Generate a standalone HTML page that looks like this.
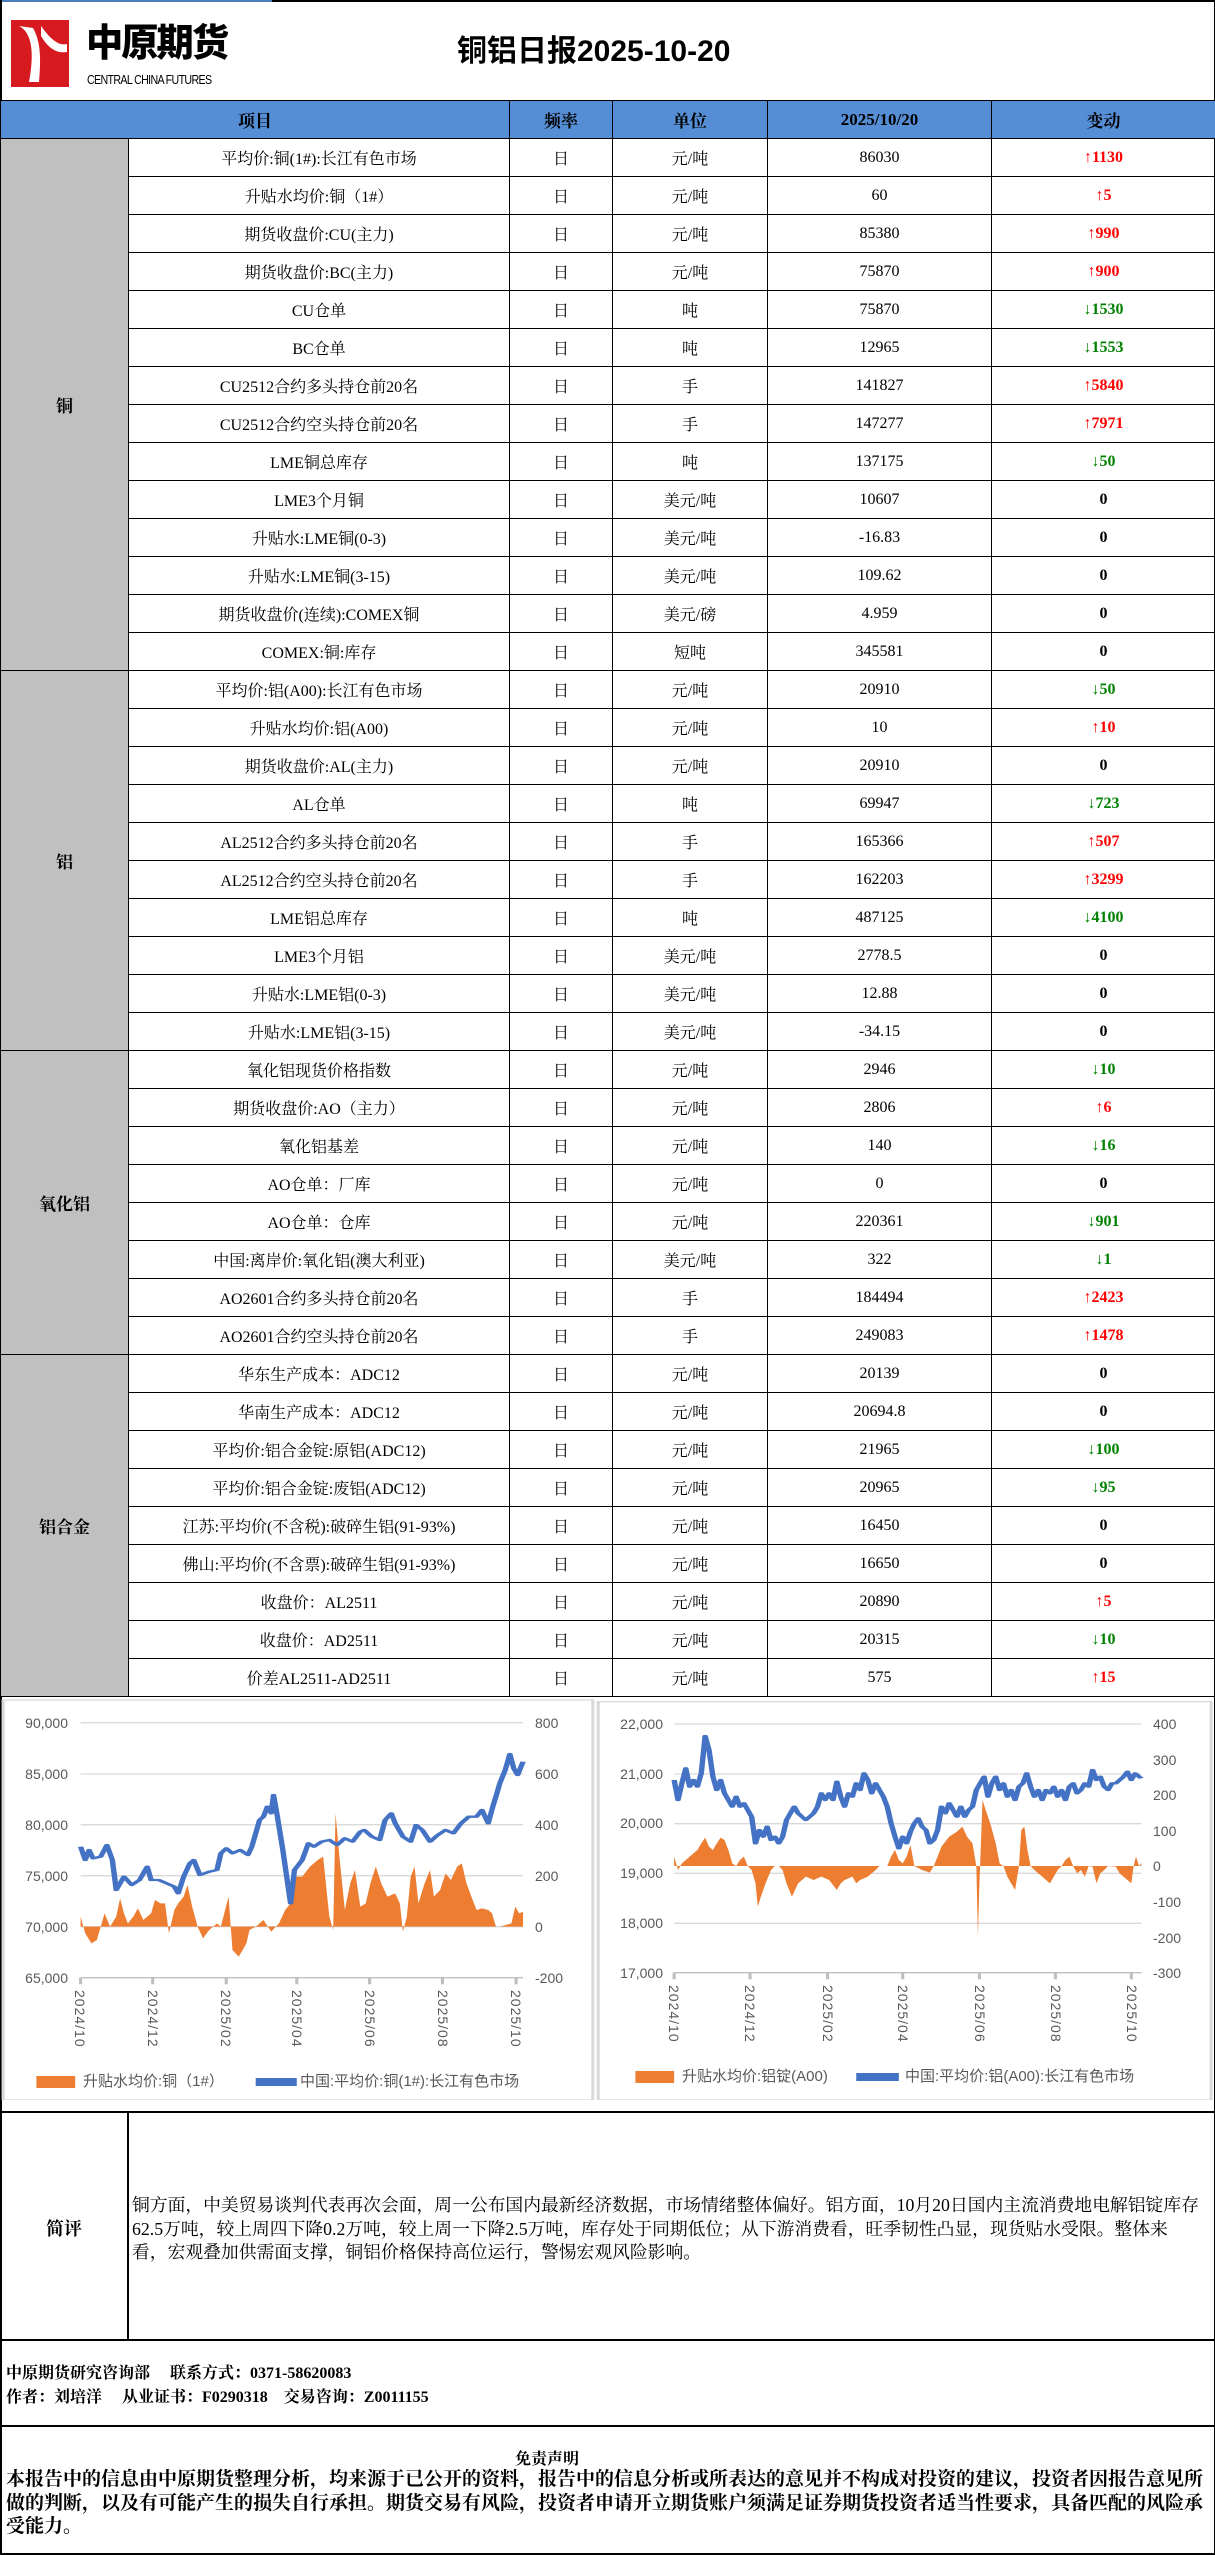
<!DOCTYPE html>
<html><head><meta charset="utf-8"><style>
*{margin:0;padding:0;box-sizing:border-box}
body{width:1215px;height:2555px;position:relative;background:#fff;font-family:"Liberation Serif","Noto Serif CJK SC",serif;color:#000;overflow:hidden}
.abs{position:absolute}
table{position:absolute;left:0;top:100px;width:1215px;border-collapse:collapse;table-layout:fixed}
td,th{border:1.5px solid #000;height:38px;text-align:center;font-size:16px;font-weight:normal;padding:0;white-space:nowrap;overflow:hidden}
th{background:#558ed5;font-weight:bold;font-size:17px}
td.cat{background:#c0c0c0;font-weight:bold;font-size:17px}
td.c{font-weight:bold}
.u{color:#ff0000}.d{color:#008000}
.lab{position:absolute;font-family:"Liberation Sans","Noto Sans CJK SC",sans-serif;font-size:14px;color:#595959;line-height:16px}
.dt{position:absolute;writing-mode:vertical-rl;font-family:"Liberation Sans",sans-serif;font-size:14px;color:#595959;letter-spacing:1px}
</style></head><body>
<div class="abs" style="left:0;top:0;width:1215px;height:2px;background:#000"></div>
<div class="abs" style="left:0;top:0;width:272px;height:2px;background:#4a7ebb"></div>
<div class="abs" style="left:0;top:0;width:1.5px;height:2555px;background:#000"></div>
<div class="abs" style="right:0;top:0;width:1.5px;height:2555px;background:#000"></div>
<svg class="abs" style="left:11px;top:20px" width="58" height="67" viewBox="0 0 58 67"><rect width="58" height="67" fill="#d71920"/><path d="M8 6 C20 12 24 30 18 62 L28 62 C30 40 30 22 22 8 Z" fill="#fff"/><path d="M30 6 C40 20 48 26 56 24 L56 32 C44 34 36 26 30 16 Z" fill="#fff"/></svg>
<div class="abs" style="left:86px;top:18px;font-family:'Noto Sans CJK SC',sans-serif;font-weight:900;font-size:38px;letter-spacing:-2px;line-height:44px;transform:scaleX(0.98);transform-origin:left">中原期货</div>
<div class="abs" style="left:87px;top:72px;font-family:'Liberation Sans',sans-serif;font-size:13px;letter-spacing:-0.8px;transform:scaleX(0.82);transform-origin:left;white-space:nowrap">CENTRAL CHINA FUTURES</div>
<div class="abs" style="left:457px;top:34px;font-family:'Liberation Sans','Noto Sans CJK SC',sans-serif;font-weight:bold;font-size:30px;line-height:36px;white-space:nowrap">铜铝日报2025-10-20</div>
<table>
<colgroup><col style="width:128px"><col style="width:381px"><col style="width:103px"><col style="width:155px"><col style="width:224px"><col style="width:224px"></colgroup>
<tr><th colspan="2">项目</th><th>频率</th><th>单位</th><th>2025/10/20</th><th>变动</th></tr>
<tr><td class="cat" rowspan="14">铜</td><td>平均价:铜(1#):长江有色市场</td><td>日</td><td>元/吨</td><td>86030</td><td class="c u">↑1130</td></tr>
<tr><td>升贴水均价:铜（1#）</td><td>日</td><td>元/吨</td><td>60</td><td class="c u">↑5</td></tr>
<tr><td>期货收盘价:CU(主力)</td><td>日</td><td>元/吨</td><td>85380</td><td class="c u">↑990</td></tr>
<tr><td>期货收盘价:BC(主力)</td><td>日</td><td>元/吨</td><td>75870</td><td class="c u">↑900</td></tr>
<tr><td>CU仓单</td><td>日</td><td>吨</td><td>75870</td><td class="c d">↓1530</td></tr>
<tr><td>BC仓单</td><td>日</td><td>吨</td><td>12965</td><td class="c d">↓1553</td></tr>
<tr><td>CU2512合约多头持仓前20名</td><td>日</td><td>手</td><td>141827</td><td class="c u">↑5840</td></tr>
<tr><td>CU2512合约空头持仓前20名</td><td>日</td><td>手</td><td>147277</td><td class="c u">↑7971</td></tr>
<tr><td>LME铜总库存</td><td>日</td><td>吨</td><td>137175</td><td class="c d">↓50</td></tr>
<tr><td>LME3个月铜</td><td>日</td><td>美元/吨</td><td>10607</td><td class="c">0</td></tr>
<tr><td>升贴水:LME铜(0-3)</td><td>日</td><td>美元/吨</td><td>-16.83</td><td class="c">0</td></tr>
<tr><td>升贴水:LME铜(3-15)</td><td>日</td><td>美元/吨</td><td>109.62</td><td class="c">0</td></tr>
<tr><td>期货收盘价(连续):COMEX铜</td><td>日</td><td>美元/磅</td><td>4.959</td><td class="c">0</td></tr>
<tr><td>COMEX:铜:库存</td><td>日</td><td>短吨</td><td>345581</td><td class="c">0</td></tr>
<tr><td class="cat" rowspan="10">铝</td><td>平均价:铝(A00):长江有色市场</td><td>日</td><td>元/吨</td><td>20910</td><td class="c d">↓50</td></tr>
<tr><td>升贴水均价:铝(A00)</td><td>日</td><td>元/吨</td><td>10</td><td class="c u">↑10</td></tr>
<tr><td>期货收盘价:AL(主力)</td><td>日</td><td>元/吨</td><td>20910</td><td class="c">0</td></tr>
<tr><td>AL仓单</td><td>日</td><td>吨</td><td>69947</td><td class="c d">↓723</td></tr>
<tr><td>AL2512合约多头持仓前20名</td><td>日</td><td>手</td><td>165366</td><td class="c u">↑507</td></tr>
<tr><td>AL2512合约空头持仓前20名</td><td>日</td><td>手</td><td>162203</td><td class="c u">↑3299</td></tr>
<tr><td>LME铝总库存</td><td>日</td><td>吨</td><td>487125</td><td class="c d">↓4100</td></tr>
<tr><td>LME3个月铝</td><td>日</td><td>美元/吨</td><td>2778.5</td><td class="c">0</td></tr>
<tr><td>升贴水:LME铝(0-3)</td><td>日</td><td>美元/吨</td><td>12.88</td><td class="c">0</td></tr>
<tr><td>升贴水:LME铝(3-15)</td><td>日</td><td>美元/吨</td><td>-34.15</td><td class="c">0</td></tr>
<tr><td class="cat" rowspan="8">氧化铝</td><td>氧化铝现货价格指数</td><td>日</td><td>元/吨</td><td>2946</td><td class="c d">↓10</td></tr>
<tr><td>期货收盘价:AO（主力）</td><td>日</td><td>元/吨</td><td>2806</td><td class="c u">↑6</td></tr>
<tr><td>氧化铝基差</td><td>日</td><td>元/吨</td><td>140</td><td class="c d">↓16</td></tr>
<tr><td>AO仓单：厂库</td><td>日</td><td>元/吨</td><td>0</td><td class="c">0</td></tr>
<tr><td>AO仓单：仓库</td><td>日</td><td>元/吨</td><td>220361</td><td class="c d">↓901</td></tr>
<tr><td>中国:离岸价:氧化铝(澳大利亚)</td><td>日</td><td>美元/吨</td><td>322</td><td class="c d">↓1</td></tr>
<tr><td>AO2601合约多头持仓前20名</td><td>日</td><td>手</td><td>184494</td><td class="c u">↑2423</td></tr>
<tr><td>AO2601合约空头持仓前20名</td><td>日</td><td>手</td><td>249083</td><td class="c u">↑1478</td></tr>
<tr><td class="cat" rowspan="9">铝合金</td><td>华东生产成本：ADC12</td><td>日</td><td>元/吨</td><td>20139</td><td class="c">0</td></tr>
<tr><td>华南生产成本：ADC12</td><td>日</td><td>元/吨</td><td>20694.8</td><td class="c">0</td></tr>
<tr><td>平均价:铝合金锭:原铝(ADC12)</td><td>日</td><td>元/吨</td><td>21965</td><td class="c d">↓100</td></tr>
<tr><td>平均价:铝合金锭:废铝(ADC12)</td><td>日</td><td>元/吨</td><td>20965</td><td class="c d">↓95</td></tr>
<tr><td>江苏:平均价(不含税):破碎生铝(91-93%)</td><td>日</td><td>元/吨</td><td>16450</td><td class="c">0</td></tr>
<tr><td>佛山:平均价(不含票):破碎生铝(91-93%)</td><td>日</td><td>元/吨</td><td>16650</td><td class="c">0</td></tr>
<tr><td>收盘价：AL2511</td><td>日</td><td>元/吨</td><td>20890</td><td class="c u">↑5</td></tr>
<tr><td>收盘价：AD2511</td><td>日</td><td>元/吨</td><td>20315</td><td class="c d">↓10</td></tr>
<tr><td>价差AL2511-AD2511</td><td>日</td><td>元/吨</td><td>575</td><td class="c u">↑15</td></tr>
</table>

<svg class="abs" style="left:0;top:1650px" width="1215" height="450" viewBox="0 0 1568 1350" preserveAspectRatio="none">
<rect x="4" y="150" width="761" height="1200" fill="none" stroke="#d9d9d9" stroke-width="4"/>
<rect x="772" y="155" width="791" height="1195" fill="none" stroke="#d9d9d9" stroke-width="4"/>
<g stroke="#d9d9d9" stroke-width="4">
<line x1="104" y1="218" x2="675" y2="218"/><line x1="104" y1="372" x2="675" y2="372"/><line x1="104" y1="524" x2="675" y2="524"/><line x1="104" y1="677" x2="675" y2="677"/><line x1="104" y1="830" x2="675" y2="830"/>
<line x1="870" y1="222" x2="1473" y2="222"/><line x1="870" y1="372" x2="1473" y2="372"/><line x1="870" y1="521" x2="1473" y2="521"/><line x1="870" y1="670" x2="1473" y2="670"/><line x1="870" y1="820" x2="1473" y2="820"/>
</g>
<g stroke="#bfbfbf" stroke-width="4">
<line x1="104" y1="983" x2="675" y2="983"/><line x1="870" y1="968" x2="1473" y2="968"/>
<line x1="104" y1="983" x2="104" y2="1003"/><line x1="197" y1="983" x2="197" y2="1003"/><line x1="292" y1="983" x2="292" y2="1003"/><line x1="383" y1="983" x2="383" y2="1003"/><line x1="477" y1="983" x2="477" y2="1003"/><line x1="571" y1="983" x2="571" y2="1003"/><line x1="666" y1="983" x2="666" y2="1003"/>
<line x1="870" y1="968" x2="870" y2="988"/><line x1="968" y1="968" x2="968" y2="988"/><line x1="1068" y1="968" x2="1068" y2="988"/><line x1="1165" y1="968" x2="1165" y2="988"/><line x1="1264" y1="968" x2="1264" y2="988"/><line x1="1362" y1="968" x2="1362" y2="988"/><line x1="1460" y1="968" x2="1460" y2="988"/>
</g>
<path fill="#ed7d31" d="M104 830 L104 800 L110 850 L118 880 L125 870 L130 830 L135 790 L142 830 L150 800 L155 745 L160 790 L165 820 L172 800 L178 775 L185 810 L190 800 L195 790 L200 750 L207 760 L213 760 L218 850 L225 780 L230 760 L237 740 L242 705 L248 770 L255 830 L262 865 L270 840 L280 820 L285 830 L295 740 L300 900 L308 920 L312 905 L318 880 L322 840 L330 830 L340 810 L350 845 L360 820 L368 780 L375 760 L380 680 L390 680 L400 650 L410 630 L417 620 L425 800 L430 840 L433 490 L438 620 L445 780 L452 700 L458 660 L465 770 L472 760 L478 700 L485 650 L492 700 L500 740 L510 730 L516 760 L520 845 L525 800 L530 680 L535 650 L540 760 L548 700 L555 660 L560 740 L568 720 L575 670 L582 690 L590 650 L596 640 L602 700 L610 750 L615 780 L622 775 L630 780 L635 790 L640 830 L645 830 L660 820 L665 770 L670 790 L675 785 L675 830 Z"/>
<polyline fill="none" stroke="#4472c4" stroke-width="7" stroke-linejoin="round" points="104,590 110,630 115,600 120,625 130,620 138,585 145,630 150,720 155,700 160,680 170,705 180,690 190,650 195,690 205,690 215,700 225,710 230,730 237,680 245,640 250,630 258,675 270,665 280,660 285,610 292,595 300,610 310,600 320,615 325,590 330,550 335,510 340,500 345,470 350,490 353,435 358,500 365,600 370,680 375,760 380,660 390,630 398,580 405,590 415,575 425,570 435,585 445,565 455,575 465,545 470,540 480,560 490,570 497,510 505,490 510,520 520,560 530,575 537,525 545,540 555,575 565,555 575,540 585,550 595,520 605,500 615,500 622,480 630,520 636,470 640,440 645,400 652,360 658,312 663,355 668,375 675,335"/>
<path fill="#ed7d31" d="M870 648 L870 620 L875 660 L880 640 L890 620 L900 600 L905 580 L910 563 L915 590 L920 600 L925 580 L930 563 L935 570 L940 600 L945 640 L950 648 L955 630 L960 620 L965 648 L970 660 L975 700 L978 770 L982 740 L988 700 L995 660 L1000 648 L1005 648 L1010 660 L1015 700 L1022 740 L1030 700 L1040 680 L1050 690 L1060 680 L1070 690 L1080 720 L1085 700 L1090 690 L1100 680 L1105 700 L1110 690 L1120 680 L1130 660 L1135 648 L1145 648 L1150 620 L1155 600 L1160 630 L1165 640 L1170 620 L1175 585 L1180 648 L1190 660 L1200 668 L1205 648 L1210 620 L1215 590 L1225 560 L1235 545 L1242 530 L1248 560 L1255 580 L1260 648 L1262 860 L1264 700 L1268 450 L1272 480 L1278 520 L1285 580 L1290 640 L1295 648 L1300 680 L1305 700 L1310 720 L1315 648 L1318 540 L1322 530 L1326 600 L1330 648 L1335 660 L1340 670 L1345 680 L1350 690 L1355 700 L1360 680 L1365 660 L1370 648 L1375 630 L1380 620 L1385 648 L1390 670 L1395 660 L1400 680 L1405 648 L1410 650 L1415 700 L1420 670 L1425 660 L1430 648 L1440 650 L1445 670 L1455 690 L1460 700 L1463 648 L1466 620 L1470 648 L1473 640 L1473 648 Z"/>
<polyline fill="none" stroke="#4472c4" stroke-width="7" stroke-linejoin="round" points="870,390 875,450 880,400 885,355 890,410 895,390 900,410 905,370 910,258 915,300 920,380 925,420 930,390 935,430 940,450 945,470 950,440 955,470 960,460 965,480 970,500 975,580 980,540 985,560 990,530 995,570 1000,560 1005,580 1010,560 1015,510 1020,490 1025,470 1030,490 1040,510 1050,490 1055,470 1060,430 1065,450 1070,430 1075,450 1080,395 1085,440 1090,470 1095,430 1100,440 1105,400 1110,420 1115,370 1120,390 1125,430 1130,400 1135,420 1140,440 1145,470 1150,520 1155,560 1160,595 1165,560 1170,580 1175,545 1180,520 1185,505 1190,530 1195,540 1200,580 1205,570 1210,540 1215,470 1220,490 1225,460 1230,480 1235,500 1240,470 1245,500 1250,480 1255,470 1260,420 1265,400 1270,380 1275,440 1280,400 1285,380 1290,420 1295,400 1300,440 1305,420 1310,450 1315,410 1320,400 1325,370 1330,410 1335,440 1340,420 1345,450 1350,420 1355,430 1360,410 1365,440 1370,420 1375,450 1380,410 1385,400 1390,430 1395,420 1400,400 1405,410 1410,360 1415,390 1420,380 1425,410 1430,420 1435,400 1440,400 1445,390 1450,380 1455,365 1460,390 1465,370 1470,380 1473,385"/>
<rect x="47" y="1278" width="50" height="36" fill="#ed7d31"/>
<line x1="330" y1="1296" x2="383" y2="1296" stroke="#4472c4" stroke-width="24"/>
<rect x="820" y="1263" width="50" height="36" fill="#ed7d31"/>
<line x1="1105" y1="1281" x2="1160" y2="1281" stroke="#4472c4" stroke-width="24"/>
</svg>

<div class="lab" style="left:10px;top:1715px;width:58px;text-align:right">90,000</div>
<div class="lab" style="left:10px;top:1766px;width:58px;text-align:right">85,000</div>
<div class="lab" style="left:10px;top:1817px;width:58px;text-align:right">80,000</div>
<div class="lab" style="left:10px;top:1868px;width:58px;text-align:right">75,000</div>
<div class="lab" style="left:10px;top:1919px;width:58px;text-align:right">70,000</div>
<div class="lab" style="left:10px;top:1970px;width:58px;text-align:right">65,000</div>
<div class="lab" style="left:535px;top:1715px">800</div>
<div class="lab" style="left:535px;top:1766px">600</div>
<div class="lab" style="left:535px;top:1817px">400</div>
<div class="lab" style="left:535px;top:1868px">200</div>
<div class="lab" style="left:535px;top:1919px">0</div>
<div class="lab" style="left:535px;top:1970px">-200</div>

<div class="lab" style="left:604px;top:1716px;width:59px;text-align:right">22,000</div>
<div class="lab" style="left:604px;top:1766px;width:59px;text-align:right">21,000</div>
<div class="lab" style="left:604px;top:1815px;width:59px;text-align:right">20,000</div>
<div class="lab" style="left:604px;top:1865px;width:59px;text-align:right">19,000</div>
<div class="lab" style="left:604px;top:1915px;width:59px;text-align:right">18,000</div>
<div class="lab" style="left:604px;top:1965px;width:59px;text-align:right">17,000</div>
<div class="lab" style="left:1153px;top:1716px">400</div>
<div class="lab" style="left:1153px;top:1752px">300</div>
<div class="lab" style="left:1153px;top:1787px">200</div>
<div class="lab" style="left:1153px;top:1823px">100</div>
<div class="lab" style="left:1153px;top:1858px">0</div>
<div class="lab" style="left:1153px;top:1894px">-100</div>
<div class="lab" style="left:1153px;top:1930px">-200</div>
<div class="lab" style="left:1153px;top:1965px">-300</div>

<div class="dt" style="left:72px;top:1990px">2024/10</div>
<div class="dt" style="left:145px;top:1990px">2024/12</div>
<div class="dt" style="left:218px;top:1990px">2025/02</div>
<div class="dt" style="left:289px;top:1990px">2025/04</div>
<div class="dt" style="left:362px;top:1990px">2025/06</div>
<div class="dt" style="left:435px;top:1990px">2025/08</div>
<div class="dt" style="left:508px;top:1990px">2025/10</div>
<div class="dt" style="left:666px;top:1985px">2024/10</div>
<div class="dt" style="left:742px;top:1985px">2024/12</div>
<div class="dt" style="left:820px;top:1985px">2025/02</div>
<div class="dt" style="left:895px;top:1985px">2025/04</div>
<div class="dt" style="left:972px;top:1985px">2025/06</div>
<div class="dt" style="left:1048px;top:1985px">2025/08</div>
<div class="dt" style="left:1124px;top:1985px">2025/10</div>

<div class="lab" style="left:83px;top:2074px;font-size:15px;white-space:nowrap">升贴水均价:铜（1#）</div>
<div class="lab" style="left:300px;top:2074px;font-size:15px;white-space:nowrap">中国:平均价:铜(1#):长江有色市场</div>
<div class="lab" style="left:682px;top:2069px;font-size:15px;white-space:nowrap">升贴水均价:铝锭(A00)</div>
<div class="lab" style="left:905px;top:2069px;font-size:15px;white-space:nowrap">中国:平均价:铝(A00):长江有色市场</div>

<div class="abs" style="left:0;top:2111px;width:1215px;height:2px;background:#000"></div>
<div class="abs" style="left:127px;top:2112px;width:1.5px;height:228px;background:#000"></div>
<div class="abs" style="left:0;top:2215px;width:128px;text-align:center;font-weight:bold;font-size:18px">简评</div>
<div class="abs" style="left:132px;top:2194px;font-size:17.8px;line-height:23.5px;white-space:nowrap">铜方面，中美贸易谈判代表再次会面，周一公布国内最新经济数据，市场情绪整体偏好。铝方面，10月20日国内主流消费地电解铝锭库存<br>62.5万吨，较上周四下降0.2万吨，较上周一下降2.5万吨，库存处于同期低位；从下游消费看，旺季韧性凸显，现货贴水受限。整体来<br>看，宏观叠加供需面支撑，铜铝价格保持高位运行，警惕宏观风险影响。</div>
<div class="abs" style="left:0;top:2339px;width:1215px;height:2px;background:#000"></div>
<div class="abs" style="left:6px;top:2362px;font-weight:bold;font-size:16px;line-height:24px;white-space:pre">中原期货研究咨询部     联系方式：0371-58620083
作者：刘培洋     从业证书：F0290318    交易咨询：Z0011155</div>
<div class="abs" style="left:0;top:2425px;width:1215px;height:2px;background:#000"></div>
<div class="abs" style="left:515px;top:2446px;font-weight:bold;font-size:16px">免责声明</div>
<div class="abs" style="left:6px;top:2468px;font-weight:bold;font-size:19px;line-height:23.5px;white-space:nowrap">本报告中的信息由中原期货整理分析，均来源于已公开的资料，报告中的信息分析或所表达的意见并不构成对投资的建议，投资者因报告意见所<br>做的判断，以及有可能产生的损失自行承担。期货交易有风险，投资者申请开立期货账户须满足证券期货投资者适当性要求，具备匹配的风险承<br>受能力。</div>
<div class="abs" style="left:0;top:2553px;width:1215px;height:2px;background:#000"></div>
</body></html>
